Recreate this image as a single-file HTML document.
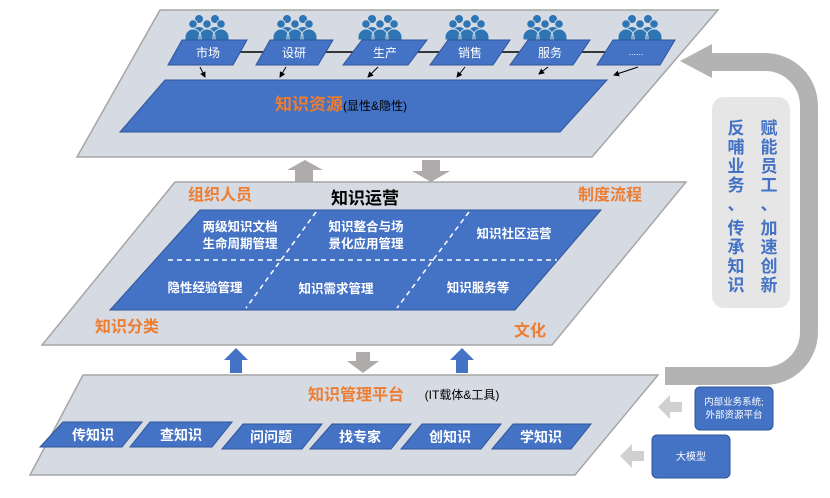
<!DOCTYPE html>
<html><head><meta charset="utf-8"><style>
html,body{margin:0;padding:0;background:#fff;}
svg{display:block;font-family:"Liberation Sans","Noto Sans CJK SC",sans-serif;}
.w{fill:#fff;font-weight:bold;}
.o{fill:#ED7D31;font-weight:bold;}
</style></head><body>
<svg width="830" height="498" viewBox="0 0 830 498" xmlns="http://www.w3.org/2000/svg">
<defs>
<g id="ppl" fill="#2E75B6">
<circle cx="-8" cy="19" r="4"/><circle cx="8" cy="19" r="4"/>
<path d="M-15,34 a7,7 0 0 1 14,0 v2 h-14z M1,34 a7,7 0 0 1 14,0 v2 h-14z"/>
<circle cx="-14" cy="24" r="4.3" stroke="#d6dae3" stroke-width="1"/><circle cx="0" cy="24" r="4.3" stroke="#d6dae3" stroke-width="1"/><circle cx="14" cy="24" r="4.3" stroke="#d6dae3" stroke-width="1"/>
<path d="M-22,40 v-3 a8,8 0 0 1 16,0 v3z M-8,40 v-3 a8,8 0 0 1 16,0 v3z M6,40 v-3 a8,8 0 0 1 16,0 v3z" stroke="#d6dae3" stroke-width="1"/>
</g>
<marker id="ah" markerWidth="6" markerHeight="6" refX="5" refY="3" orient="auto"><path d="M0,0 L6,3 L0,6z" fill="#000"/></marker>
</defs>

<!-- top plane -->
<polygon points="160,10 718,10 592,157 77,157" fill="#d6dae3" stroke="#a6a6a6" stroke-width="1.5"/>
<polygon points="165,80 607,80 560,132 120,132" fill="#4472C4" stroke="#2F5597"/>
<text x="275" y="110" font-size="17" class="o">知识资源<tspan font-size="12" fill="#000" font-weight="normal">(显性&amp;隐性)</tspan></text>
<line x1="232" y1="52" x2="650" y2="52" stroke="#000" stroke-width="1.5"/>
<g>
<use href="#ppl" x="207" y="0"/><use href="#ppl" x="295" y="0"/><use href="#ppl" x="380" y="0"/><use href="#ppl" x="467" y="0"/><use href="#ppl" x="545" y="0"/><use href="#ppl" x="640" y="0"/>
</g>
<g fill="#4472C4" stroke="#2F5597">
<polygon points="182,40 247,40 233,65 168,65"/>
<polygon points="270,40 333,40 318,65 256,65"/>
<polygon points="362,40 427,40 408,65 343,65"/>
<polygon points="448,40 510,40 493,65 430,65"/>
<polygon points="528,40 590,40 573,65 510,65"/>
<polygon points="613,40 675,40 660,65 597,65"/>
</g>
<g font-size="12" fill="#fff" text-anchor="middle">
<text x="208" y="57">市场</text><text x="294" y="57">设研</text><text x="385" y="57">生产</text><text x="470" y="57">销售</text><text x="550" y="57">服务</text><text x="636" y="55" font-size="9">......</text>
</g>
<g stroke="#000" stroke-width="1" marker-end="url(#ah)">
<line x1="200" y1="67" x2="205" y2="77"/><line x1="286" y1="67" x2="280" y2="77"/><line x1="378" y1="67" x2="368" y2="77"/><line x1="465" y1="67" x2="457" y2="77"/><line x1="548" y1="67" x2="539" y2="74"/><line x1="638" y1="67" x2="614" y2="75"/>
</g>

<!-- gray arrows top-middle -->
<polygon points="305,160 323,170 313,170 313,182 295,182 295,170 287,170" fill="#afabab"/>
<polygon points="422,160 440,160 440,171 450,171 431,182 412,171 422,171" fill="#afabab"/>

<!-- middle plane -->
<polygon points="175,182 686,182 552,345 42,345" fill="#d6dae3" stroke="#a6a6a6" stroke-width="1.5"/>
<polygon points="200,210 601,210 515,310 110,310" fill="#4472C4" stroke="#2F5597"/>
<g stroke="#fff" stroke-width="1.5" stroke-dasharray="5,4" fill="none">
<line x1="168" y1="260" x2="557" y2="260"/>
<line x1="316" y1="212" x2="246" y2="308"/>
<line x1="469" y1="212" x2="397" y2="308"/>
</g>
<text x="220" y="200" font-size="16" class="o" text-anchor="middle">组织人员</text>
<text x="365" y="204" font-size="17" font-weight="bold" fill="#000" text-anchor="middle">知识运营</text>
<text x="610" y="200" font-size="16" class="o" text-anchor="middle">制度流程</text>
<text x="127" y="332" font-size="16" class="o" text-anchor="middle">知识分类</text>
<text x="530" y="336" font-size="16" class="o" text-anchor="middle">文化</text>
<g font-size="12.5" class="w" text-anchor="middle">
<text x="240" y="231">两级知识文档</text><text x="240" y="248">生命周期管理</text>
<text x="366" y="231">知识整合与场</text><text x="366" y="248">景化应用管理</text>
<text x="514" y="238">知识社区运营</text>
<text x="205" y="292">隐性经验管理</text>
<text x="336" y="293">知识需求管理</text>
<text x="478" y="292">知识服务等</text>
</g>

<!-- arrows middle-bottom -->
<polygon points="236,348 248,360 242,360 242,373 230,373 230,360 224,360" fill="#4472C4"/>
<polygon points="462,348 474,360 468,360 468,373 456,373 456,360 450,360" fill="#4472C4"/>
<polygon points="356,352 370,352 370,361 379,361 363,373 347,361 356,361" fill="#afabab"/>

<!-- bottom plane -->
<polygon points="83,375 658,375 575,475 30,475" fill="#d6dae3" stroke="#a6a6a6" stroke-width="1.5"/>
<text x="356" y="400" font-size="16" class="o" text-anchor="middle">知识管理平台</text>
<text x="462" y="399" font-size="12" fill="#000" text-anchor="middle">(IT载体&amp;工具)</text>
<g fill="#4472C4" stroke="#2F5597">
<polygon points="63,422 142,422 122,447 40,447"/>
<polygon points="150,422 232,422 212,447 130,447"/>
<polygon points="243,424 322,424 302,449 222,449"/>
<polygon points="332,424 411,424 391,449 310,449"/>
<polygon points="422,424 501,424 481,449 401,449"/>
<polygon points="513,424 591,424 571,449 492,449"/>
</g>
<g font-size="14" class="w" text-anchor="middle">
<text x="93" y="440">传知识</text><text x="181" y="440">查知识</text><text x="271" y="442">问问题</text><text x="360" y="442">找专家</text><text x="450" y="442">创知识</text><text x="541" y="442">学知识</text>
</g>

<!-- U arrow -->
<path d="M708,62 H765 A44,44 0 0 1 809,106 V332 A44,44 0 0 1 765,376 H665" fill="none" stroke="#b3b3b3" stroke-width="18"/>
<polygon points="680,61 712,44 712,78" fill="#b3b3b3"/>
<rect x="712" y="97" width="78" height="211" rx="12" fill="#e6e6e6"/>
<g font-size="17" font-weight="bold" fill="#4472C4" text-anchor="middle">
<text x="736" y="134">反</text><text x="736" y="153">哺</text><text x="736" y="172">业</text><text x="736" y="191">务</text><text x="736" y="210">、</text><text x="736" y="234">传</text><text x="736" y="253">承</text><text x="736" y="272">知</text><text x="736" y="291">识</text>
<text x="769" y="134">赋</text><text x="769" y="153">能</text><text x="769" y="172">员</text><text x="769" y="191">工</text><text x="769" y="210">、</text><text x="769" y="234">加</text><text x="769" y="253">速</text><text x="769" y="272">创</text><text x="769" y="291">新</text>
</g>

<!-- side boxes -->
<polygon points="658,407 670,395 670,402 682,402 682,412 670,412 670,419" fill="#d0d0d0"/>
<polygon points="620,456 632,444 632,451 644,451 644,461 632,461 632,468" fill="#d0d0d0"/>
<rect x="695" y="387" width="78" height="43" rx="5" fill="#4472C4" stroke="#2F5597"/>
<text x="734" y="405" font-size="9.5" fill="#fff" text-anchor="middle">内部业务系统;</text>
<text x="734" y="418" font-size="9.5" fill="#fff" text-anchor="middle">外部资源平台</text>
<rect x="652" y="435" width="78" height="43" rx="5" fill="#4472C4" stroke="#2F5597"/>
<text x="691" y="460" font-size="10" fill="#fff" text-anchor="middle">大模型</text>
</svg>
</body></html>
